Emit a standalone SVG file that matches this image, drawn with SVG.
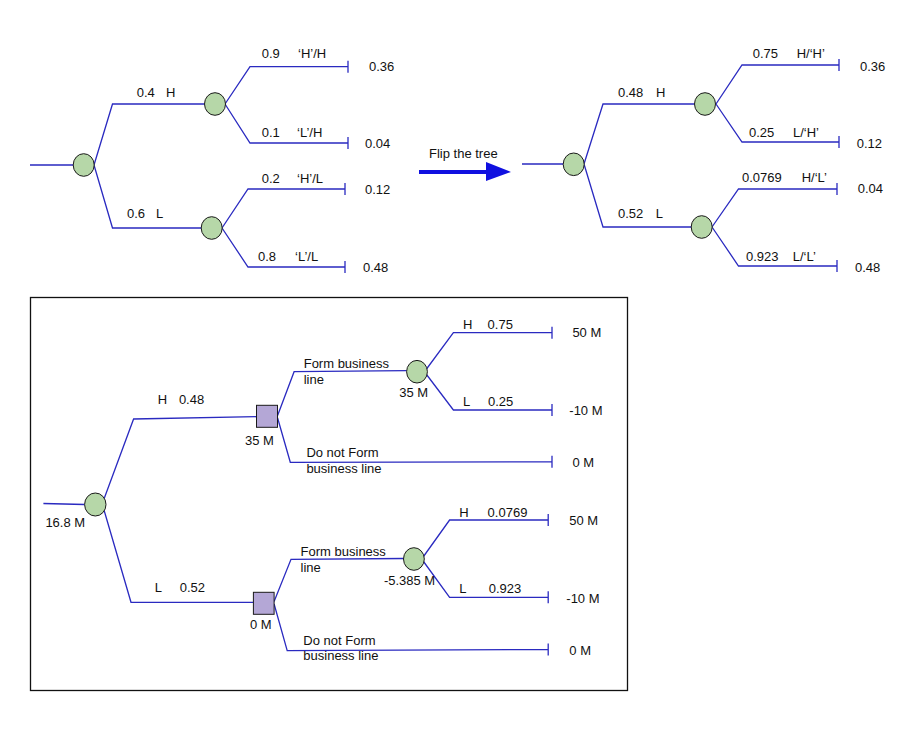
<svg xmlns="http://www.w3.org/2000/svg" width="922" height="734" viewBox="0 0 922 734">
<style>
.ln{fill:none;stroke:#2a2ac0;stroke-width:1.3}
.ch{fill:#b6d7a8;stroke:#1a1a1a;stroke-width:1}
.dc{fill:#b4a7d6;stroke:#1a1a1a;stroke-width:1}
.t{font-family:"Liberation Sans",Arial,sans-serif;font-size:13px;fill:#111}
.s{font-family:"Liberation Sans",Arial,sans-serif;font-size:13px;fill:#111}
</style>
<rect width="922" height="734" fill="#fff"/>
<g id="connectors">
<!-- tree 1 -->
<path class="ln" d="M30,165 H73 M94,165 L112.5,104 H204 M94,165 L112.5,228 H201"/>
<path class="ln" d="M225,104 L250,66.7 H348 M225,104 L250,143 H348 M348,60.7 V72.7 M348,137 V149"/>
<path class="ln" d="M222,228 L248,189 H345 M222,228 L248,267 H345 M345,183 V195 M345,261 V273"/>
<!-- tree 2 -->
<path class="ln" d="M522,164 H563 M584,164 L603,104 H694 M584,164 L603,227 H691"/>
<path class="ln" d="M716,104 L742,65 H839 M716,104 L742,142 H839 M839,59 V71 M839,136 V148"/>
<path class="ln" d="M712,227 L738.5,189 H837 M712,227 L738.5,266 H837 M837,183 V195 M837,260 V272"/>
<!-- bottom tree -->
<path class="ln" d="M43.4,503.5 L84.6,504.5 M104,499 L133.6,419 L256.5,416.7 M104,510 L131,602.3 H253.4"/>
<path class="ln" d="M277.6,415.5 L294.1,371.7 L406.6,370.7 M277.6,418 L290.3,462.3 L552,461.7 M552,455.7 V467.7"/>
<path class="ln" d="M426.5,369 L453.4,332.7 H552 M426.5,374.5 L453.4,410 H552 M552,326.7 V338.7 M552,404 V416"/>
<path class="ln" d="M274.1,601.5 L291,559.3 L403.5,558.5 M274.1,604 L287.2,650.7 L548.2,649.5 M548.2,643.5 V655.5"/>
<path class="ln" d="M423.5,556.5 L449.6,520 H548.2 M423.5,561.5 L449.6,597.3 H548.2 M548.2,514 V526 M548.2,591.3 V603.3"/>
</g>
<g id="flip-arrow">
<path d="M419,170 H486 V162 L511,172 L486,181 V174 H419 Z" fill="#1010e0"/>
<text class="t" x="429" y="158">Flip the tree</text>
</g>
<g id="tree1-root"><ellipse class="ch" cx="83.7" cy="165" rx="10.5" ry="11.3"/></g>
<g id="tree1-H"><ellipse class="ch" cx="215" cy="104" rx="10.5" ry="11.3"/>
<text class="t" x="136.7" y="97">0.4</text><text class="t" x="166" y="97">H</text></g>
<g id="tree1-L"><ellipse class="ch" cx="211.7" cy="228" rx="10.5" ry="11.3"/>
<text class="t" x="127" y="218">0.6</text><text class="t" x="156" y="218">L</text></g>
<g id="tree1-leaves">
<text class="t" x="261.7" y="58">0.9</text><text class="t" x="298" y="58">‘H’/H</text><text class="t" x="369" y="71">0.36</text>
<text class="t" x="261.7" y="137">0.1</text><text class="t" x="297" y="137">‘L’/H</text><text class="t" x="365" y="148">0.04</text>
<text class="t" x="261.7" y="183">0.2</text><text class="t" x="297" y="183">‘H’/L</text><text class="t" x="365" y="194">0.12</text>
<text class="t" x="258" y="261">0.8</text><text class="t" x="295" y="261">‘L’/L</text><text class="t" x="363" y="272">0.48</text>
</g>
<g id="tree2-root"><ellipse class="ch" cx="573.7" cy="164.3" rx="10.5" ry="11.3"/></g>
<g id="tree2-H"><ellipse class="ch" cx="705" cy="104" rx="10.5" ry="11.3"/>
<text class="t" x="618" y="97">0.48</text><text class="t" x="656" y="97">H</text></g>
<g id="tree2-L"><ellipse class="ch" cx="701.7" cy="227" rx="10.5" ry="11.3"/>
<text class="t" x="618" y="218">0.52</text><text class="t" x="655.7" y="218">L</text></g>
<g id="tree2-leaves">
<text class="t" x="752.7" y="58">0.75</text><text class="t" x="796.7" y="58">H/‘H’</text><text class="t" x="860" y="71">0.36</text>
<text class="t" x="749" y="137">0.25</text><text class="t" x="793" y="137">L/‘H’</text><text class="t" x="856.7" y="148">0.12</text>
<text class="t" x="742" y="182">0.0769</text><text class="t" x="801.7" y="182">H/‘L’</text><text class="t" x="857.7" y="193">0.04</text>
<text class="t" x="746" y="261">0.923</text><text class="t" x="792.7" y="261">L/‘L’</text><text class="t" x="855" y="272">0.48</text>
</g>
<g id="decision-frame"><rect x="30.5" y="297.5" width="597" height="393" fill="none" stroke="#111" stroke-width="1.3"/></g>
<g id="b-root"><ellipse class="ch" cx="95.3" cy="504.5" rx="10.7" ry="11.5"/>
<text class="s" x="45.4" y="527">16.8 M</text></g>
<g id="b-dec-H"><rect class="dc" x="256.5" y="405.3" width="21" height="22"/>
<text class="s" x="157.8" y="404">H</text><text class="s" x="178.9" y="404">0.48</text>
<text class="s" x="245" y="445">35 M</text></g>
<g id="b-chance-H"><ellipse class="ch" cx="417" cy="371.7" rx="10.4" ry="11.3"/>
<text class="s" x="303.7" y="368.3">Form business</text><text class="s" x="303.7" y="384">line</text>
<text class="s" x="399.3" y="397.3">35 M</text></g>
<g id="b-leaves-H">
<text class="s" x="463" y="329">H</text><text class="s" x="487.6" y="329">0.75</text><text class="s" x="572.4" y="337.3">50 M</text>
<text class="s" x="463" y="406">L</text><text class="s" x="488" y="406">0.25</text><text class="s" x="569.3" y="415">-10 M</text>
<text class="s" x="306.4" y="457.3">Do not Form</text><text class="s" x="306.4" y="473.3">business line</text><text class="s" x="572.4" y="467.3">0 M</text>
</g>
<g id="b-dec-L"><rect class="dc" x="253.4" y="592.3" width="20.7" height="22"/>
<text class="s" x="154.8" y="591.7">L</text><text class="s" x="179.7" y="591.7">0.52</text>
<text class="s" x="250" y="629.3">0 M</text></g>
<g id="b-chance-L"><ellipse class="ch" cx="413.9" cy="559" rx="10.4" ry="11.3"/>
<text class="s" x="300.6" y="555.7">Form business</text><text class="s" x="300.6" y="571.7">line</text>
<text class="s" x="383.9" y="585">-5.385 M</text></g>
<g id="b-leaves-L">
<text class="s" x="459.2" y="516.7">H</text><text class="s" x="487.6" y="516.7">0.0769</text><text class="s" x="569.3" y="525">50 M</text>
<text class="s" x="459.2" y="593.3">L</text><text class="s" x="488.7" y="593.3">0.923</text><text class="s" x="566.3" y="603.3">-10 M</text>
<text class="s" x="303.3" y="645">Do not Form</text><text class="s" x="303.3" y="660">business line</text><text class="s" x="569.3" y="655">0 M</text>
</g>
</svg>
